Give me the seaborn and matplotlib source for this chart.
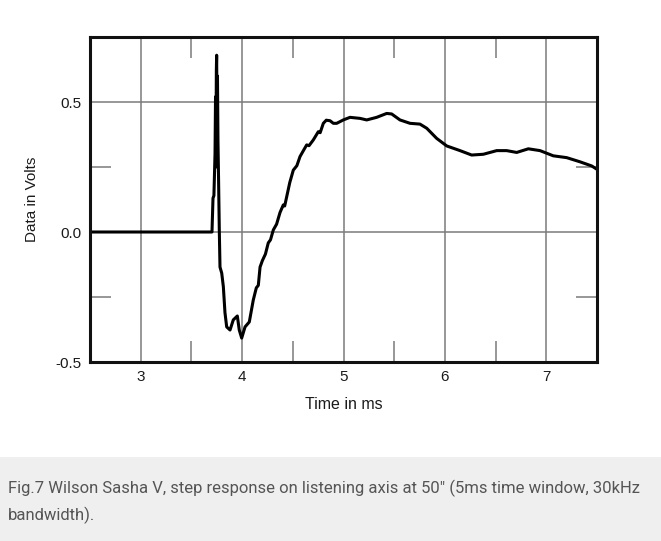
import numpy as np
import pandas as pd
import matplotlib
matplotlib.use("Agg")
import matplotlib.pyplot as plt
import seaborn as sns
from matplotlib.ticker import MultipleLocator

sns.set_theme(style="white")
plt.rcParams['font.family'] = ['Liberation Sans', 'DejaVu Sans']

# step response
time_ms = [2.50, 3.703, 3.713, 3.722, 3.733, 3.738, 3.742, 3.746, 3.749, 3.753,
           3.757, 3.762, 3.768, 3.775, 3.782, 3.799, 3.815, 3.831, 3.848, 3.881,
           3.913, 3.953, 3.972, 3.996, 4.029, 4.071, 4.110, 4.140, 4.160, 4.177,
           4.200, 4.230, 4.258, 4.280, 4.308, 4.340, 4.374, 4.406, 4.420, 4.440,
           4.470, 4.505, 4.540, 4.571, 4.600, 4.637, 4.660, 4.702, 4.752, 4.770,
           4.801, 4.830, 4.867, 4.900, 4.933, 4.998, 5.064, 5.163, 5.229, 5.327,
           5.426, 5.475, 5.557, 5.656, 5.754, 5.821, 5.919, 6.018, 6.149, 6.264,
           6.379, 6.511, 6.609, 6.708, 6.823, 6.938, 7.069, 7.201, 7.332, 7.448,
           7.50]
volts = [0.0, 0.0, 0.13, 0.14, 0.30, 0.52, 0.25, 0.62, 0.68, 0.40,
         0.60, 0.35, 0.20, 0.01, -0.135, -0.158, -0.21, -0.31, -0.365, -0.377,
         -0.338, -0.323, -0.377, -0.408, -0.365, -0.346, -0.262, -0.215, -0.205, -0.135,
         -0.110, -0.085, -0.042, -0.030, 0.008, 0.030, 0.075, 0.104, 0.100, 0.136,
         0.190, 0.238, 0.255, 0.29, 0.310, 0.335, 0.332, 0.354, 0.386, 0.382,
         0.418, 0.430, 0.428, 0.418, 0.418, 0.431, 0.441, 0.437, 0.431, 0.441,
         0.456, 0.454, 0.431, 0.418, 0.415, 0.399, 0.36, 0.331, 0.313, 0.296,
         0.299, 0.313, 0.313, 0.306, 0.32, 0.313, 0.293, 0.286, 0.27, 0.254,
         0.241]

x_ticks = [3, 4, 5, 6, 7]
y_ticks = [-0.5, 0.0, 0.5]
y_labels = ['-0.5', '0.0', '0.5']

df = pd.DataFrame({'t': time_ms, 'v': volts})

fig = plt.figure(figsize=(6.61, 5.41), dpi=100)
ax = fig.add_axes([90/661, 1 - 362/541, 507/661, 325/541])

sns.lineplot(data=df, x='t', y='v', ax=ax, color='black', linewidth=2.2, estimator=None, sort=False)

ax.set_xlim(2.5, 7.5)
ax.set_ylim(-0.5, 0.75)
ax.set_xticks(x_ticks)
ax.set_yticks(y_ticks)
ax.set_yticklabels(y_labels)
ax.xaxis.set_minor_locator(MultipleLocator(0.5))
ax.yaxis.set_minor_locator(MultipleLocator(0.25))

ax.grid(True, which='major', color='#7a7a7a', linewidth=1.1)
ax.tick_params(which='major', length=0, labelsize=11, colors='#1a1a1a', pad=6)
ax.tick_params(which='minor', direction='in', length=15, width=1.1, color='#7a7a7a',
               top=True, bottom=True, left=True, right=True)
for s in ax.spines.values():
    s.set_color('#111111')
    s.set_linewidth(2.2)

ax.set_xlabel('Time in ms', fontsize=11.5, color='#1a1a1a', labelpad=9)
ax.set_ylabel('Data in Volts', fontsize=11, color='#1a1a1a', labelpad=12)

# caption box
fig.patches.append(plt.Rectangle((0, 0), 1, 84/541, transform=fig.transFigure,
                                 facecolor='#efefef', edgecolor='none', zorder=-1))
fig.text(8/661, 1 - 488/541, 'Fig.7 Wilson Sasha V, step response on listening axis at 50" (5ms time window, 30kHz',
         family=['Roboto', 'DejaVu Sans'], fontsize=12, color='#555555', va='center')
fig.text(8/661, 1 - 515/541, 'bandwidth).',
         family=['Roboto', 'DejaVu Sans'], fontsize=12, color='#555555', va='center')

fig.savefig('out.png', dpi=100)
